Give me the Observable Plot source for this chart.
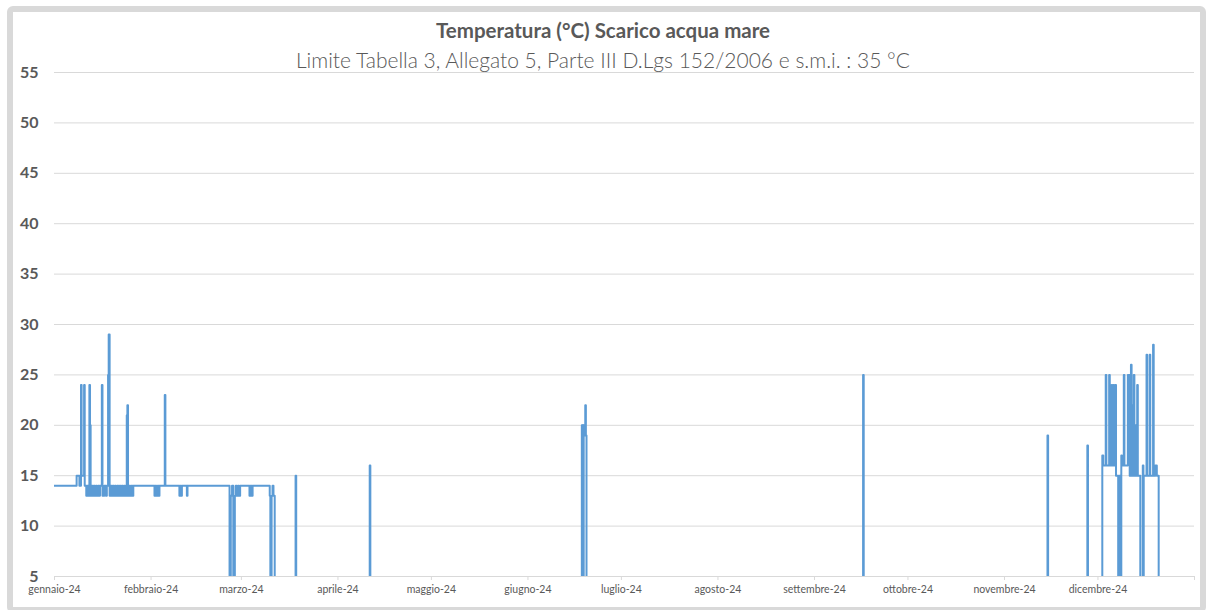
<!DOCTYPE html>
<html>
<head>
<meta charset="utf-8">
<script src="https://cdn.jsdelivr.net/npm/d3@7"></script>
<script src="https://cdn.jsdelivr.net/npm/@observablehq/plot@0.6"></script>
<style>
  html, body { margin: 0; padding: 0; background: #ffffff; overflow: hidden; }
  #wrap { position: relative; width: 1206px; height: 610px; overflow: hidden; font-family: Lato, "Open Sans", sans-serif; }
  #frame { position: absolute; left: 7px; top: 6px; width: 1199px; height: 607px; box-sizing: border-box; border: 6px solid #d9d9d9; border-radius: 6px; }
  #chart { position: absolute; left: 0; top: 52px; }
  .title { position: absolute; left: 0; width: 1206px; text-align: center; color: #595959; line-height: 24px; white-space: nowrap; }
  #t1 { top: 18px; font-size: 20.5px; font-weight: bold; }
  #t2 { top: 48px; font-size: 21px; font-weight: 300; }
</style>
</head>
<body>
<div id="wrap">
  <div id="frame"></div>
  <div id="chart"></div>
  <div class="title" id="t1">Temperatura (°C) Scarico acqua mare</div>
  <div class="title" id="t2">Limite Tabella 3, Allegato 5, Parte III D.Lgs 152/2006 e s.m.i. : 35 °C</div>
</div>
<script>
// ---- Data (day offsets from 1 Jan 2024, temperature in °C; step series) ----
const janMarDays  = [0, 7.1, 8.0, 8.5, 8.7, 9.5, 9.7, 10.2, 10.5, 10.8, 11.2, 11.4, 11.6, 11.9, 12.2, 12.6, 12.9, 13.3, 13.6, 14.0, 14.3, 14.6, 15.2, 15.4, 16.0, 16.5, 16.8, 17.2, 17.4, 17.7, 18.0, 18.3, 18.7, 19.0, 19.4, 19.7, 20.1, 20.5, 20.9, 21.2, 21.6, 22.0, 22.4, 22.7, 23.2, 23.4, 23.6, 24.0, 24.3, 24.7, 25.0, 25.3, 32.1, 32.4, 32.7, 33.1, 33.4, 33.7, 35.4, 35.6, 40.1, 40.4, 40.6, 40.9, 42.5, 42.7, 56.2, 56.6, 57.0, 57.4, 57.9, 58.2, 58.5, 58.9, 59.2, 59.6, 62.6, 62.9, 63.3, 63.6, 69.1, 69.3, 69.7, 70.0, 70.3, 70.7];
const janMarTemps = [14, 15, 14, 24, 15, 24, 14, 13, 14, 13, 24, 20, 13, 14, 13, 14, 13, 14, 13, 14, 13, 14, 24, 13, 14, 13, 14, 25, 29, 13, 14, 13, 14, 13, 14, 13, 14, 13, 14, 13, 14, 13, 14, 13, 21, 22, 13, 14, 13, 14, 13, 14, 13, 14, 13, 14, 13, 14, 23, 14, 13, 14, 13, 14, 13, 14, 0, 13, 14, 0, 13, 14, 13, 14, 13, 14, 13, 14, 13, 14, 13, 0, 13, 14, 13, 0];

const aprNovDays  = [77.4, 77.6, 101.2, 101.4, 169.3, 169.5, 169.6, 169.8, 169.9, 170.1, 170.4, 170.6, 170.8, 259.6, 259.8, 318.8, 319.0, 331.6, 331.8];
const aprNovTemps = [15, 0, 16, 0, 20, 0, 20, 0, 20, 19, 22, 19, 0, 25, 0, 19, 0, 18, 0];

const decDays  = [336.4, 336.7, 337.5, 337.7, 338.6, 338.8, 339.4, 339.6, 340.0, 340.2, 340.6, 340.8, 341.5, 341.8, 342.1, 342.5, 342.7, 343.3, 343.5, 344.6, 344.8, 345.0, 345.2, 345.6, 345.8, 346.1, 346.3, 346.5, 346.7, 347.0, 347.2, 347.6, 347.8, 348.6, 349.4, 349.6, 349.7, 350.6, 350.8, 351.6, 351.8, 352.7, 352.9, 353.4, 353.9, 354.5, 366];
const decTemps = [17, 16, 25, 16, 25, 16, 24, 16, 24, 16, 24, 15, 0, 15, 0, 17, 16, 25, 16, 25, 20, 25, 15, 26, 15, 22, 15, 25, 15, 20, 15, 24, 15, 0, 16, 0, 15, 27, 15, 27, 15, 28, 15, 16, 15, 0, 0];

const monthLabels = ["gennaio-24", "febbraio-24", "marzo-24", "aprile-24", "maggio-24", "giugno-24", "luglio-24", "agosto-24", "settembre-24", "ottobre-24", "novembre-24", "dicembre-24"];
const yTicks = [5, 10, 15, 20, 25, 30, 35, 40, 45, 50, 55];

// ---- Build table ----
const start = Date.UTC(2024, 0, 1);
const allDays = [...janMarDays, ...aprNovDays, ...decDays];
const allTemps = [...janMarTemps, ...aprNovTemps, ...decTemps];
const series = allDays.map((d, i) => ({date: new Date(start + d * 86400000), temp: allTemps[i]}));

const monthTicks = d3.utcMonth.range(new Date(Date.UTC(2024, 0, 1)), new Date(Date.UTC(2025, 0, 2)));

const chart = Plot.plot({
  width: 1206,
  height: 558,
  marginLeft: 54,
  marginRight: 12,
  marginTop: 20,
  marginBottom: 34,
  style: {fontFamily: "Lato, 'Open Sans', sans-serif", background: "transparent", color: "#595959", overflow: "visible"},
  x: {type: "utc", domain: [new Date(Date.UTC(2024, 0, 1)), new Date(Date.UTC(2025, 0, 1))]},
  y: {domain: [5, 55]},
  marks: [
    Plot.gridY(yTicks, {stroke: "#d9d9d9", strokeOpacity: 1, strokeWidth: 1}),
    Plot.ruleY([5], {stroke: "#d9d9d9", strokeWidth: 1}),
    Plot.axisY(yTicks, {tickSize: 0, tickPadding: 16, fontSize: 16, fontWeight: "bold", fill: "#595959", label: null}),
    Plot.axisX(monthTicks, {
      tickSize: 4, tickPadding: 5, fontSize: 10.5, stroke: "#d9d9d9", fill: "#595959", label: null,
      tickFormat: d => d.getUTCFullYear() === 2024 ? monthLabels[d.getUTCMonth()] : ""
    }),
    Plot.line(series, {x: "date", y: "temp", curve: "step-after", stroke: "#5b9bd5", strokeWidth: 2, clip: true})
  ]
});
document.getElementById("chart").appendChild(chart);
</script>
</body>
</html>
